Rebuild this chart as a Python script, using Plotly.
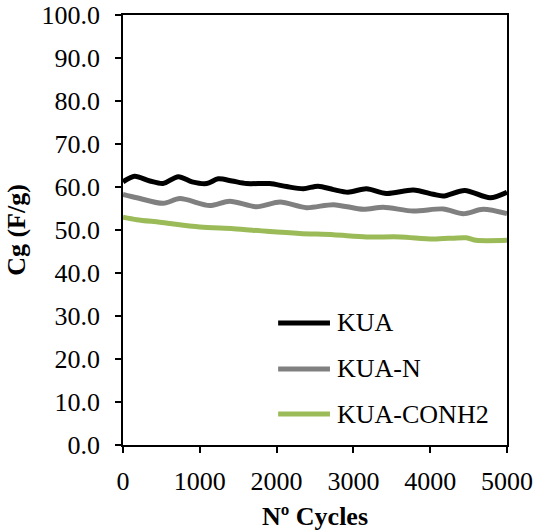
import plotly.graph_objects as go

kua_x = [0, 150, 350, 520, 720, 900, 1090, 1240, 1420, 1610, 1910, 2130, 2350, 2540, 2740, 2930, 3170, 3430, 3780, 4040, 4170, 4450, 4780, 5000]
kua_y = [61.2, 62.5, 61.4, 60.8, 62.4, 61.2, 60.8, 61.9, 61.4, 60.8, 60.8, 60.1, 59.6, 60.2, 59.4, 58.8, 59.6, 58.5, 59.3, 58.3, 57.9, 59.2, 57.5, 58.8]

kuan_x = [0, 180, 525, 740, 1130, 1390, 1740, 2045, 2390, 2740, 3130, 3390, 3780, 4170, 4430, 4690, 5000]
kuan_y = [58.3, 57.5, 56.2, 57.3, 55.7, 56.7, 55.4, 56.5, 55.2, 55.9, 54.8, 55.3, 54.4, 54.9, 53.8, 54.8, 53.8]

conh2_x = [0, 180, 480, 1000, 1440, 1870, 2300, 2740, 3170, 3610, 4040, 4470, 4600, 5000]
conh2_y = [53.0, 52.4, 51.8, 50.7, 50.3, 49.7, 49.2, 48.9, 48.4, 48.4, 47.9, 48.2, 47.6, 47.6]

names = ["KUA", "KUA-N", "KUA-CONH2"]
colors = ["#000000", "#808080", "#9BBB59"]
series = [(kua_x, kua_y), (kuan_x, kuan_y), (conh2_x, conh2_y)]

x_ticks = [0, 1000, 2000, 3000, 4000, 5000]
y_ticks = [0, 10, 20, 30, 40, 50, 60, 70, 80, 90, 100]

FONT = "Liberation Serif, Times New Roman, serif"
FS = 26

fig = go.Figure()
for (xs, ys), n, c in zip(series, names, colors):
    fig.add_trace(go.Scatter(x=xs, y=ys, mode="lines", name=n,
                             line=dict(color=c, width=5, shape="spline", smoothing=0.8),
                             showlegend=False))

# manual legend
leg_y = [0.284, 0.177, 0.072]
for n, c, yy in zip(names, colors, leg_y):
    fig.add_shape(type="line", xref="paper", yref="paper", x0=0.404, x1=0.539, y0=yy, y1=yy,
                  line=dict(color=c, width=5))
    fig.add_annotation(xref="paper", yref="paper", x=0.553, y=yy, text=n, showarrow=False,
                       xanchor="left", yanchor="middle", font=dict(family=FONT, size=FS, color="black"))

fig.update_layout(
    width=536, height=531,
    margin=dict(l=123, r=29, t=15, b=86, autoexpand=False),
    paper_bgcolor="white", plot_bgcolor="white",
    font=dict(family=FONT, size=FS, color="black"),
)
fig.update_xaxes(range=[0, 5000], tickvals=x_ticks, ticktext=[str(v) for v in x_ticks],
                 showgrid=False, zeroline=False, showline=True, linecolor="black", linewidth=1.5,
                 mirror=True, ticks="outside", ticklen=6, tickwidth=1.5, tickcolor="black",
                 ticklabelstandoff=6, automargin=False,
                 title=dict(text="<b>Nº Cycles</b>", font=dict(family=FONT, size=FS), standoff=14))
fig.update_yaxes(range=[0, 100], tickvals=y_ticks, ticktext=[f"{v:.1f}" for v in y_ticks],
                 showgrid=False, zeroline=False, showline=True, linecolor="black", linewidth=1.5,
                 mirror=True, ticks="outside", ticklen=6, tickwidth=1.5, tickcolor="black",
                 ticklabelstandoff=10, automargin=False,
                 title=dict(text="<b>Cg (F/g)</b>", font=dict(family=FONT, size=FS), standoff=8))

fig.write_html("out.html")
